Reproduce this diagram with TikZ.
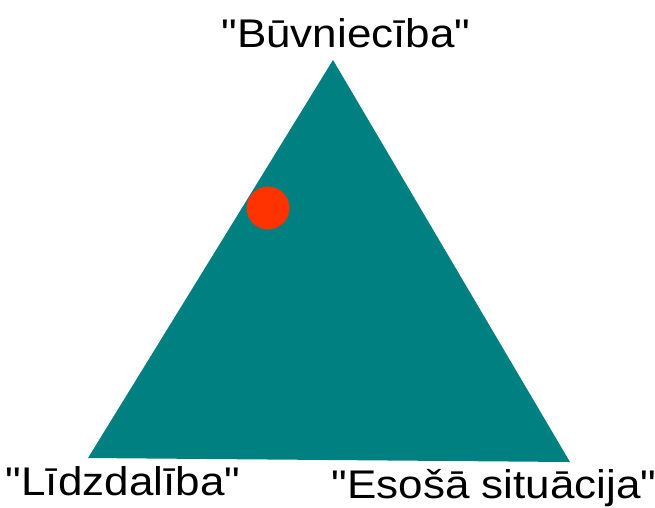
\documentclass[tikz,border=0pt]{standalone}
\usepackage{fontspec}
\setmainfont{Liberation Sans}[Ligatures=TeXOff]
\definecolor{tealfill}{HTML}{008080}
\definecolor{dotred}{HTML}{FF3300}
\newcommand{\qlabel}[1]{\XeTeXglyph\XeTeXcharglyph"0022 #1\XeTeXglyph\XeTeXcharglyph"0022 }

\begin{document}
\begin{tikzpicture}[
  x=1pt, y=-1pt,
  lab/.style={font=\fontsize{40}{48}\selectfont, inner sep=0pt, anchor=base, xscale=1.1},
  dot/.style={circle, fill=dotred, minimum size=43pt, inner sep=0pt}
]
\useasboundingbox (0,0) rectangle (655,507);

% ================= triangle =================
\coordinate (top) at (333,60);
\coordinate (bl) at (88,458);
\coordinate (br) at (570,462);
\fill[tealfill] (top) -- (bl) -- (br) -- cycle;

\node[dot] (mark) at (268,208) {};

% ================= labels =================
\node[lab] (lbuv) at (346,47) {\qlabel{Būvniecība}};
\node[lab] (llid) at (123,495) {\qlabel{Līdzdalība}};
\node[lab] (leso) at (494,498) {\qlabel{Esošā situācija}};

\end{tikzpicture}
\end{document}
